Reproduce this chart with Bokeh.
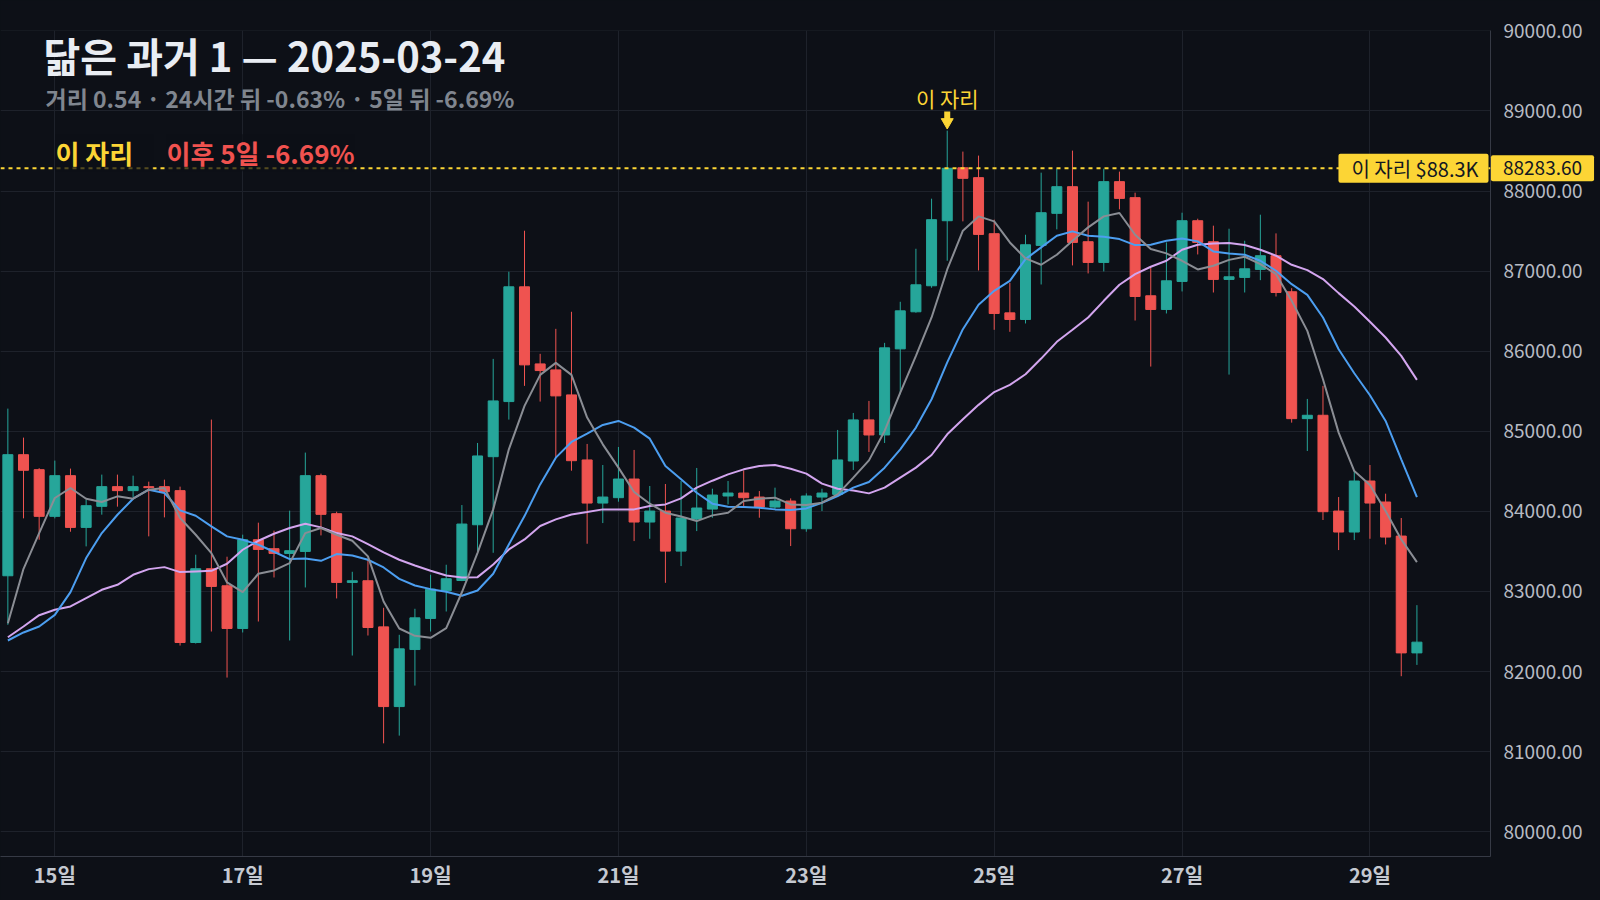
import numpy as np
import pandas as pd
from bokeh.plotting import figure
from bokeh.models import ColumnDataSource, FixedTicker, PrintfTickFormatter, Label, Span, Range1d
from bokeh.embed import file_html
from bokeh.resources import INLINE

# 4h candles, BTC/USDT, 2025-03-14 12:00 .. 2025-03-29 12:00
start = "2025-03-14 12:00"
match_time = "2025-03-24 12:00"
match_price = 88283.60
distance = 0.54
chg_24h = -0.63
chg_5d = -6.69

opens = [83196, 84708, 84521, 83938, 84446, 83800, 84063, 84309, 84259, 84309,
         84309, 84259, 82363, 83284, 83071, 82538, 83646, 83534, 83475, 83500,
         84446, 83971, 83113, 83134, 82558, 81563, 82275, 82663, 83009, 83137,
         83833, 84683, 85371, 86804, 85841, 85766, 85454, 84642, 84104, 84171,
         84404, 83867, 84004, 83504, 83904, 84029, 84192, 84229, 84179, 84054,
         84129, 83783, 84179, 84212, 84629, 85142, 84954, 86029, 86492, 86817,
         87629, 88290, 88167, 87467, 86479, 86396, 87321, 87721, 88054, 87367,
         87108, 88117, 87917, 86692, 86521, 86871, 87629, 87367, 86896, 86921,
         87021, 87192, 86742, 85158, 85200, 84004, 83742, 84379, 84117, 83692,
         82233]
highs = [85283, 84921, 84540, 84634, 84534, 84146, 84459, 84459, 84446, 84371,
         84396, 84309, 83459, 85146, 83434, 83709, 83859, 83759, 84009, 84734,
         84471, 83996, 83246, 83396, 82796, 82459, 82784, 83209, 83334, 84079,
         84854, 85904, 86992, 87504, 85967, 86279, 86492, 84842, 84579, 84804,
         84767, 84317, 84342, 84379, 84542, 84283, 84379, 84512, 84254, 84296,
         84162, 84225, 84283, 85017, 85229, 85379, 86104, 86617, 87279, 87904,
         88754, 88492, 88442, 87642, 86854, 87454, 88229, 88279, 88504, 87867,
         88279, 88242, 87979, 87046, 87358, 87729, 87654, 87567, 87529, 87379,
         87704, 87471, 86787, 85404, 85567, 84179, 84504, 84579, 84221, 83917,
         82829]
lows = [82584, 83913, 83646, 83913, 83746, 83563, 83959, 84059, 84179, 83688,
        83925, 82325, 82350, 82500, 81925, 82488, 82625, 83175, 82388, 83050,
        83700, 82913, 82200, 82450, 81104, 81200, 81825, 82500, 82750, 83129,
        83504, 83483, 85146, 85567, 85371, 84679, 84508, 83596, 83854, 84121,
        83629, 83658, 83108, 83317, 83754, 83921, 84087, 84067, 83921, 84025,
        83567, 83746, 84004, 84200, 84517, 84742, 84854, 85462, 86480, 86792,
        87129, 87621, 87008, 86267, 86242, 86346, 86833, 87521, 87071, 86971,
        86996, 87771, 86383, 85808, 86471, 86746, 87208, 86733, 85708, 86733,
        86887, 86683, 85108, 84754, 83892, 83517, 83642, 83658, 83587, 81942,
        82083]
closes = [84708, 84513, 83938, 84446, 83800, 84071, 84309, 84259, 84309, 84296,
          84246, 82363, 83284, 83063, 82538, 83646, 83525, 83475, 83509, 84446,
          83963, 83113, 83134, 82550, 81563, 82284, 82671, 83029, 83159, 83842,
          84692, 85379, 86804, 85829, 85758, 85442, 84633, 84104, 84179, 84404,
          83867, 84004, 83504, 83917, 84042, 84204, 84229, 84171, 84054, 84129,
          83783, 84192, 84229, 84642, 85142, 84954, 86042, 86504, 86829, 87642,
          88283.6, 88158, 87458, 86471, 86396, 87329, 87729, 88054, 87358, 87108,
          88117, 87908, 86683, 86521, 86879, 87629, 87358, 86896, 86929, 87029,
          87192, 86733, 85158, 85200, 83996, 83742, 84379, 84104, 83679, 82233,
          82367]

# moving averages (gray = short, blue = mid, violet = long)
ma_short = [82604, 83283, 83729, 84167, 84292, 84158, 84117, 84188, 84158, 84271,
            84292, 83917, 83708, 83479, 83113, 82992, 83221, 83263, 83354, 83729,
            83792, 83708, 83633, 83438, 82875, 82538, 82446, 82421, 82542, 82990,
            83483, 84025, 84775, 85317, 85704, 85854, 85704, 85171, 84837, 84546,
            84242, 84096, 83983, 83937, 83879, 83950, 83983, 84129, 84158, 84171,
            84087, 84079, 84108, 84212, 84421, 84637, 85004, 85483, 85942, 86421,
            87020, 87504, 87683, 87621, 87358, 87158, 87079, 87204, 87379, 87546,
            87683, 87725, 87454, 87275, 87221, 87129, 87021, 87067, 87140, 87179,
            87087, 86962, 86629, 86254, 85650, 84983, 84504, 84329, 84004, 83650,
            83367]
ma_mid = [82388, 82488, 82563, 82708, 82992, 83417, 83729, 83958, 84158, 84271,
          84229, 84013, 83946, 83813, 83688, 83646, 83583, 83496, 83404, 83413,
          83383, 83467, 83450, 83396, 83300, 83158, 83075, 83029, 82996, 82946,
          83012, 83221, 83587, 83941, 84337, 84671, 84867, 84971, 85079, 85129,
          85046, 84908, 84567, 84400, 84233, 84096, 84058, 84054, 84046, 84025,
          84017, 84037, 84108, 84192, 84296, 84367, 84546, 84775, 85046, 85400,
          85860, 86275, 86579, 86754, 86879, 87150, 87296, 87442, 87496, 87442,
          87429, 87400, 87325, 87329, 87379, 87408, 87371, 87246, 87220, 87204,
          87129, 87004, 86837, 86704, 86421, 86025, 85725, 85450, 85129, 84650,
          84179]
ma_long = [82429, 82563, 82704, 82771, 82813, 82917, 83021, 83083, 83208, 83279,
           83304, 83242, 83250, 83258, 83346, 83521, 83633, 83721, 83792, 83846,
           83800, 83729, 83688, 83592, 83488, 83396, 83325, 83258, 83200, 83175,
           83179, 83337, 83525, 83650, 83817, 83900, 83962, 83992, 84025, 84025,
           84025, 84067, 84087, 84162, 84296, 84383, 84462, 84525, 84567, 84579,
           84533, 84471, 84346, 84283, 84262, 84225, 84296, 84421, 84546, 84704,
           84962, 85150, 85330, 85490, 85579, 85712, 85908, 86117, 86267, 86421,
           86629, 86829, 86962, 87054, 87129, 87267, 87329, 87346, 87350, 87325,
           87267, 87192, 87079, 87012, 86900, 86725, 86558, 86367, 86171, 85942,
           85642]

price_ticks = list(range(80000, 90001, 1000))

BG = "#0d1017"
GRID = "#1e222b"
GREEN = "#26a69a"
RED = "#ef5350"
YELLOW = "#fcd535"
FONT = "Noto Sans CJK KR"

times = pd.date_range(start, periods=len(opens), freq="4h")
idx = np.arange(len(times))
match_i = int(np.where(times == pd.Timestamp(match_time))[0][0])
day_ticks = [int(i) for i in idx if times[i].hour == 0 and times[i].day % 2 == 1]
day_labels = {float(i): f"{times[i].day}일" for i in day_ticks}

o = np.array(opens, dtype=float)
c = np.array(closes, dtype=float)
source = ColumnDataSource(dict(
    x=idx, high=highs, low=lows,
    top=np.maximum(o, c), bottom=np.minimum(o, c),
    color=[GREEN if cc >= oo else RED for oo, cc in zip(o, c)],
))

y_lo, y_hi = 79691, 90004
p = figure(width=1600, height=900, output_backend="svg", toolbar_location=None,
           x_range=Range1d(-0.47, 94.7), y_range=Range1d(y_lo, y_hi),
           y_axis_location="right", min_border_left=0, min_border_top=30,
           min_border_right=110, min_border_bottom=44)
p.background_fill_color = BG
p.border_fill_color = BG
p.outline_line_color = None

p.xgrid.ticker = FixedTicker(ticks=day_ticks)
p.ygrid.ticker = FixedTicker(ticks=price_ticks)
p.grid.grid_line_color = GRID

p.yaxis.ticker = FixedTicker(ticks=price_ticks)
p.yaxis.formatter = PrintfTickFormatter(format="%.2f")
p.xaxis.ticker = FixedTicker(ticks=day_ticks)
p.xaxis.major_label_overrides = day_labels
for ax in (p.xaxis, p.yaxis):
    ax.axis_line_color = "#363a45"
    ax.major_tick_line_color = None
    ax.minor_tick_line_color = None
    ax.major_tick_out = 0
    ax.major_tick_in = 0
    ax.major_label_text_font = FONT
    ax.major_label_text_color = "#b7bbc4"
p.yaxis.major_label_text_font_size = "19px"
p.yaxis.major_label_standoff = 13
p.xaxis.major_label_text_font_size = "20px"
p.xaxis.major_label_text_font_style = "bold"
p.xaxis.major_label_text_color = "#c5c9d1"
p.xaxis.major_label_standoff = 3

p.segment(x0="x", y0="low", x1="x", y1="high", color="color", line_width=1, source=source)
p.vbar(x="x", width=0.64, top="top", bottom="bottom", fill_color="color",
       line_color="color", line_width=1, source=source)

p.line(idx, ma_long, color="#d3a5ef", line_width=2)
p.line(idx, ma_mid, color="#4c9ef0", line_width=2)
p.line(idx, ma_short, color="#8a8d94", line_width=2)

# match level
p.add_layout(Span(location=match_price, dimension="width", line_color=YELLOW,
                  line_dash="4 4", line_width=2))

# marker above the matched candle
px = 12.5  # price units per screen pixel
hi = highs[match_i]
p.segment(x0=[match_i], y0=[hi + 11 * px], x1=[match_i], y1=[hi + 19 * px],
          line_color=YELLOW, line_width=6)
p.scatter([match_i], [hi + 8.5 * px], marker="inverted_triangle", size=12,
          fill_color=YELLOW, line_color=YELLOW)
p.add_layout(Label(x=match_i, y=hi, y_offset=33, text="이 자리", text_align="center",
                   text_baseline="alphabetic", text_color=YELLOW, text_font=FONT,
                   text_font_size="21px"))

# header texts
p.add_layout(Label(x=43, y=773, x_units="screen", y_units="screen",
                   text=f"닮은 과거 1 — {match_time[:10]}", text_font=FONT,
                   text_font_size="40px", text_font_style="bold", text_color="#e9edf3"))
p.add_layout(Label(x=45, y=742, x_units="screen", y_units="screen",
                   text=f"거리 {distance:.2f} · 24시간 뒤 {chg_24h:.2f}% · 5일 뒤 {chg_5d:.2f}%",
                   text_font=FONT, text_font_size="23px",
                   text_font_style="bold", text_color="#80868f"))
p.add_layout(Label(x=55, y=match_price, x_units="screen", y_offset=-3, text="이 자리",
                   text_font=FONT, text_font_size="26px", text_font_style="bold",
                   text_color=YELLOW, background_fill_color=BG, background_fill_alpha=0.7,
                   padding=dict(left=0, right=20, top=0, bottom=0)))
p.add_layout(Label(x=166, y=match_price, x_units="screen", y_offset=-3,
                   text=f"이후 5일 {chg_5d:.2f}%", text_font=FONT,
                   text_font_size="26px", text_font_style="bold", text_color="#f0524f",
                   background_fill_color=BG, background_fill_alpha=0.7))

# price tags at the right edge
p.add_layout(Label(x=1488, y=match_price, x_units="screen", text=f"이 자리 ${match_price / 1000:.1f}K",
                   text_align="right", text_baseline="middle", text_font=FONT,
                   text_font_size="20px", text_color="#131722",
                   background_fill_color=YELLOW, border_radius=2,
                   padding=dict(left=13, right=10, top=0, bottom=0)))
# the axis tag sits outside the frame, so it lives in a side panel (not clipped)
p.add_layout(Label(x=1542, y=match_price, x_units="screen", text=f"{match_price:.2f}",
                   text_align="center", text_baseline="middle", text_font=FONT,
                   text_font_size="19px", text_color="#131722",
                   background_fill_color=YELLOW, border_radius=2,
                   padding=dict(left=12, right=12, top=6, bottom=6)), "above")

html = file_html(p, INLINE)
html = html.replace("<head>", "<head><style>html,body{margin:0;background:%s;overflow:hidden}</style>" % BG, 1)
open("out.html", "w").write(html)
